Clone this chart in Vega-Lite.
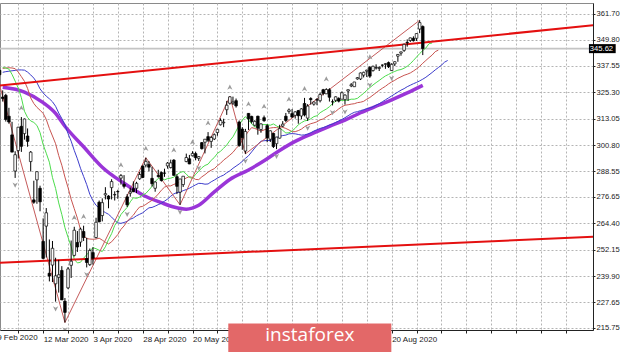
{
"$schema":"https://vega.github.io/schema/vega-lite/v6.json",
"width":593,"height":327,
"autosize":{"type":"none"},
"padding":{"left":0,"top":3,"right":27,"bottom":22},
"background":"white",
"config":{"view":{"stroke":"#8a8a8a","strokeWidth":1},"font":"Liberation Sans"},
"datasets":{
"bars":[
{"i":0,"o":337.8,"h":339.1,"l":337.5,"c":338.3},{"i":1,"o":337.7,"h":338.6,"l":332.6,"c":337.0},{"i":2,"o":335.5,"h":335.8,"l":332.6,"c":333.5},{"i":3,"o":323.1,"h":326.2,"l":321.0,"c":322.4},{"i":4,"o":323.9,"h":324.6,"l":311.7,"c":312.7},{"i":5,"o":314.2,"h":318.1,"l":310.7,"c":311.5},{"i":6,"o":305.5,"h":311.6,"l":297.5,"c":297.5},{"i":7,"o":288.7,"h":297.9,"l":285.5,"c":296.3},{"i":8,"o":298.2,"h":309.2,"l":294.5,"c":309.1},{"i":9,"o":309.5,"h":313.8,"l":297.6,"c":300.2},
{"i":10,"o":306.1,"h":313.1,"l":303.3,"c":312.9},{"i":11,"o":305.0,"h":308.5,"l":300.0,"c":302.5},{"i":12,"o":293.1,"h":298.0,"l":288.5,"c":297.5},{"i":13,"o":275.3,"h":284.2,"l":273.5,"c":274.2},{"i":14,"o":284.6,"h":288.5,"l":273.5,"c":288.4},{"i":15,"o":280.7,"h":281.9,"l":270.0,"c":274.4},{"i":16,"o":256.0,"h":266.7,"l":247.7,"c":248.1},{"i":17,"o":263.1,"h":271.5,"l":248.5,"c":269.3},{"i":18,"o":241.2,"h":256.9,"l":237.4,"c":239.9},{"i":19,"o":245.0,"h":256.2,"l":237.1,"c":252.8},
{"i":20,"o":236.3,"h":248.4,"l":228.0,"c":240.0},{"i":21,"o":239.3,"h":247.4,"l":232.2,"c":240.5},{"i":22,"o":242.5,"h":244.5,"l":228.8,"c":228.8},{"i":23,"o":228.2,"h":229.7,"l":218.3,"c":223.0},{"i":24,"o":234.4,"h":244.1,"l":233.8,"c":243.2},{"i":25,"o":244.9,"h":256.4,"l":239.0,"c":246.8},{"i":26,"o":249.5,"h":262.8,"l":249.0,"c":261.2},{"i":27,"o":255.5,"h":260.8,"l":251.1,"c":253.4},{"i":28,"o":255.7,"h":262.4,"l":253.5,"c":261.7},{"i":29,"o":260.6,"h":263.3,"l":256.2,"c":257.8},
{"i":30,"o":248.0,"h":257.7,"l":243.9,"c":246.2},{"i":31,"o":245.2,"h":252.7,"l":244.6,"c":251.8},{"i":32,"o":250.8,"h":253.3,"l":245.2,"c":248.2},{"i":33,"o":257.8,"h":267.0,"l":257.4,"c":264.9},{"i":34,"o":274.2,"h":275.0,"l":264.9,"c":265.1},{"i":35,"o":268.0,"h":276.0,"l":265.3,"c":274.0},{"i":36,"o":277.6,"h":281.2,"l":275.5,"c":278.2},{"i":37,"o":277.1,"h":277.5,"l":271.4,"c":275.7},{"i":38,"o":281.0,"h":284.9,"l":275.5,"c":283.8},{"i":39,"o":277.6,"h":279.3,"l":275.0,"c":277.8},
{"i":40,"o":279.2,"h":280.0,"l":275.8,"c":279.1},{"i":41,"o":285.4,"h":287.3,"l":282.4,"c":286.6},{"i":42,"o":282.6,"h":286.8,"l":280.6,"c":281.6},{"i":43,"o":276.7,"h":278.0,"l":272.0,"c":273.0},{"i":44,"o":278.4,"h":281.0,"l":276.8,"c":279.1},{"i":45,"o":280.5,"h":283.9,"l":278.9,"c":279.1},{"i":46,"o":280.7,"h":283.7,"l":278.5,"c":283.0},{"i":47,"o":285.1,"h":288.3,"l":284.6,"c":287.1},{"i":48,"o":291.0,"h":291.4,"l":285.4,"c":285.7},{"i":49,"o":291.5,"h":294.9,"l":290.4,"c":293.2},
{"i":50,"o":291.7,"h":293.3,"l":288.6,"c":290.5},{"i":51,"o":285.3,"h":290.7,"l":281.5,"c":282.8},{"i":52,"o":280.7,"h":283.9,"l":279.1,"c":283.6},{"i":53,"o":286.6,"h":289.3,"l":285.6,"c":286.2},{"i":54,"o":288.0,"h":288.5,"l":283.8,"c":284.3},{"i":55,"o":287.8,"h":289.8,"l":286.0,"c":287.7},{"i":56,"o":291.1,"h":292.9,"l":289.8,"c":292.4},{"i":57,"o":290.3,"h":294.0,"l":289.9,"c":292.5},{"i":58,"o":293.8,"h":294.2,"l":286.5,"c":286.7},{"i":59,"o":286.1,"h":287.2,"l":278.0,"c":281.6},
{"i":60,"o":278.9,"h":285.1,"l":273.0,"c":285.0},{"i":61,"o":282.4,"h":286.3,"l":281.3,"c":286.3},{"i":62,"o":293.1,"h":296.8,"l":292.8,"c":295.0},{"i":63,"o":294.4,"h":296.2,"l":291.9,"c":292.0},{"i":64,"o":295.8,"h":297.9,"l":295.5,"c":296.9},{"i":65,"o":296.8,"h":297.7,"l":293.7,"c":294.9},{"i":66,"o":294.6,"h":295.6,"l":293.4,"c":295.4},{"i":67,"o":301.9,"h":302.2,"l":298.7,"c":299.1},{"i":68,"o":302.1,"h":303.6,"l":296.9,"c":303.5},{"i":69,"o":304.7,"h":306.8,"l":302.2,"c":303.0},
{"i":70,"o":302.5,"h":305.0,"l":299.5,"c":304.3},{"i":71,"o":303.6,"h":306.2,"l":303.1,"c":305.6},{"i":72,"o":306.6,"h":308.1,"l":305.1,"c":308.1},{"i":73,"o":310.2,"h":313.2,"l":309.9,"c":312.2},{"i":74,"o":311.1,"h":313.0,"l":309.1,"c":311.4},{"i":75,"o":317.2,"h":321.3,"l":314.8,"c":319.3},{"i":76,"o":320.2,"h":323.4,"l":319.6,"c":323.2},{"i":77,"o":320.3,"h":323.3,"l":319.4,"c":320.8},{"i":78,"o":321.4,"h":322.4,"l":318.2,"c":319.0},{"i":79,"o":311.5,"h":312.2,"l":300.0,"c":300.6},
{"i":80,"o":308.2,"h":309.1,"l":298.6,"c":304.2},{"i":81,"o":298.0,"h":308.3,"l":296.7,"c":307.1},{"i":82,"o":315.5,"h":315.6,"l":307.8,"c":313.0},{"i":83,"o":314.1,"h":314.4,"l":310.8,"c":311.7},{"i":84,"o":310.0,"h":312.3,"l":309.5,"c":311.8},{"i":85,"o":314.2,"h":314.4,"l":305.6,"c":308.6},{"i":86,"o":308.0,"h":310.9,"l":306.5,"c":310.6},{"i":87,"o":313.5,"h":314.5,"l":311.6,"c":312.1},{"i":88,"o":309.8,"h":310.5,"l":302.1,"c":304.1},{"i":89,"o":303.5,"h":307.6,"l":302.2,"c":307.4},
{"i":90,"o":306.2,"h":306.4,"l":299.4,"c":300.1},{"i":91,"o":301.4,"h":304.6,"l":298.9,"c":304.5},{"i":92,"o":304.0,"h":310.2,"l":303.8,"c":308.4},{"i":93,"o":309.6,"h":311.9,"l":309.1,"c":310.5},{"i":94,"o":314.2,"h":315.7,"l":311.5,"c":312.2},{"i":95,"o":316.4,"h":317.8,"l":315.3,"c":317.1},{"i":96,"o":315.4,"h":317.5,"l":313.4,"c":313.8},{"i":97,"o":314.6,"h":316.5,"l":313.1,"c":316.2},{"i":98,"o":316.8,"h":317.1,"l":310.7,"c":314.4},{"i":99,"o":314.3,"h":317.9,"l":312.8,"c":317.6},
{"i":100,"o":320.1,"h":322.7,"l":314.1,"c":314.8},{"i":101,"o":313.3,"h":319.8,"l":312.0,"c":318.9},{"i":102,"o":322.4,"h":323.0,"l":319.6,"c":321.9},{"i":103,"o":319.8,"h":321.0,"l":319.1,"c":320.8},{"i":104,"o":321.9,"h":322.6,"l":319.3,"c":321.7},{"i":105,"o":321.4,"h":325.1,"l":320.6,"c":324.3},{"i":106,"o":326.5,"h":326.9,"l":323.9,"c":324.8},{"i":107,"o":324.6,"h":327.2,"l":324.5,"c":326.6},{"i":108,"o":326.5,"h":327.2,"l":321.0,"c":323.0},{"i":109,"o":320.9,"h":322.0,"l":319.2,"c":320.9},
{"i":110,"o":321.6,"h":323.4,"l":320.8,"c":323.2},{"i":111,"o":322.4,"h":323.0,"l":320.6,"c":321.2},{"i":112,"o":322.1,"h":325.7,"l":322.1,"c":325.1},{"i":113,"o":321.9,"h":324.4,"l":319.6,"c":324.0},{"i":114,"o":325.9,"h":326.6,"l":321.3,"c":326.5},{"i":115,"o":328.3,"h":329.6,"l":327.7,"c":328.8},{"i":116,"o":327.9,"h":330.1,"l":327.9,"c":330.1},{"i":117,"o":331.5,"h":332.4,"l":331.2,"c":332.1},{"i":118,"o":331.5,"h":334.5,"l":331.0,"c":334.3},{"i":119,"o":333.3,"h":334.9,"l":332.2,"c":334.6},
{"i":120,"o":335.1,"h":335.8,"l":332.4,"c":335.6},{"i":121,"o":336.9,"h":337.5,"l":332.0,"c":332.8},{"i":122,"o":335.4,"h":337.7,"l":334.9,"c":337.4},{"i":123,"o":336.6,"h":338.3,"l":335.9,"c":336.8},{"i":124,"o":336.4,"h":337.4,"l":335.2,"c":336.8},{"i":125,"o":337.9,"h":338.3,"l":336.9,"c":337.9},{"i":126,"o":338.3,"h":338.8,"l":336.2,"c":338.6},{"i":127,"o":339.1,"h":339.6,"l":336.6,"c":337.2},{"i":128,"o":335.4,"h":338.8,"l":335.2,"c":338.3},{"i":129,"o":338.5,"h":339.7,"l":337.5,"c":339.5},
{"i":130,"o":342.1,"h":343.0,"l":339.5,"c":342.9},{"i":131,"o":343.5,"h":344.2,"l":342.3,"c":344.1},{"i":132,"o":344.8,"h":347.9,"l":344.1,"c":347.6},{"i":133,"o":348.5,"h":349.9,"l":346.5,"c":348.3},{"i":134,"o":349.4,"h":350.7,"l":348.7,"c":350.6},{"i":135,"o":350.4,"h":351.3,"l":348.9,"c":349.3},{"i":136,"o":350.4,"h":352.7,"l":349.2,"c":352.6},{"i":137,"o":354.7,"h":358.8,"l":352.8,"c":357.7},{"i":138,"o":355.9,"h":356.4,"l":342.6,"c":345.6}
],
"lips":[
{"i":3,"v":336.8},{"i":4,"v":336.6},{"i":5,"v":336.1},{"i":6,"v":333.6},{"i":7,"v":330.5},{"i":8,"v":327.3},{"i":9,"v":322.8},{"i":10,"v":316.5},{"i":11,"v":313.6},{"i":12,"v":312.0},{"i":13,"v":311.3},{"i":14,"v":309.9},{"i":15,"v":306.6},{"i":16,"v":301.0},{"i":17,"v":297.0},{"i":18,"v":292.8},{"i":19,"v":285.7},{"i":20,"v":280.6},{"i":21,"v":273.9},{"i":22,"v":268.5},{"i":23,"v":262.4},{"i":24,"v":257.9},{"i":25,"v":253.6},{"i":26,"v":247.7},{"i":27,"v":246.0},{"i":28,"v":246.3},{"i":29,"v":248.2},{"i":30,"v":249.8},{"i":31,"v":251.4},{"i":32,"v":253.1},{"i":33,"v":252.6},{"i":34,"v":251.9},{"i":35,"v":251.3},{"i":36,"v":253.5},{"i":37,"v":256.8},{"i":38,"v":259.6},{"i":39,"v":263.4},{"i":40,"v":265.6},{"i":41,"v":268.5},{"i":42,"v":270.2},{"i":43,"v":271.8},{"i":44,"v":274.4},{"i":45,"v":276.3},{"i":46,"v":276.0},{"i":47,"v":276.6},{"i":48,"v":277.6},{"i":49,"v":278.3},{"i":50,"v":279.9},{"i":51,"v":281.6},{"i":52,"v":283.8},{"i":53,"v":285.3},{"i":54,"v":285.4},{"i":55,"v":284.6},{"i":56,"v":285.2},{"i":57,"v":285.4},{"i":58,"v":285.9},{"i":59,"v":287.0},{"i":60,"v":288.0},{"i":61,"v":288.5},{"i":62,"v":287.3},{"i":63,"v":285.7},{"i":64,"v":285.3},{"i":65,"v":287.2},{"i":66,"v":288.6},{"i":67,"v":290.2},{"i":68,"v":291.3},{"i":69,"v":291.9},{"i":70,"v":293.7},{"i":71,"v":295.0},{"i":72,"v":296.9},{"i":73,"v":297.9},{"i":74,"v":299.3},{"i":75,"v":300.8},{"i":76,"v":302.9},{"i":77,"v":304.6},{"i":78,"v":307.3},{"i":79,"v":310.1},{"i":80,"v":312.4},{"i":81,"v":314.0},{"i":82,"v":312.4},{"i":83,"v":310.7},{"i":84,"v":309.1},{"i":85,"v":309.6},{"i":86,"v":310.2},{"i":87,"v":310.3},{"i":88,"v":310.3},{"i":89,"v":310.0},{"i":90,"v":310.6},{"i":91,"v":309.7},{"i":92,"v":308.8},{"i":93,"v":307.6},{"i":94,"v":306.4},{"i":95,"v":306.5},{"i":96,"v":307.3},{"i":97,"v":308.6},{"i":98,"v":310.2},{"i":99,"v":311.2},{"i":100,"v":312.0},{"i":101,"v":312.3},{"i":102,"v":313.0},{"i":103,"v":314.0},{"i":104,"v":314.4},{"i":105,"v":315.8},{"i":106,"v":316.7},{"i":107,"v":317.5},{"i":108,"v":318.6},{"i":109,"v":320.0},{"i":110,"v":321.2},{"i":111,"v":321.7},{"i":112,"v":321.5},{"i":113,"v":321.6},{"i":114,"v":321.7},{"i":115,"v":322.1},{"i":116,"v":322.1},{"i":117,"v":322.5},{"i":118,"v":323.7},{"i":119,"v":324.8},{"i":120,"v":326.2},{"i":121,"v":327.5},{"i":122,"v":328.7},{"i":123,"v":329.8},{"i":124,"v":330.8},{"i":125,"v":331.9},{"i":126,"v":332.9},{"i":127,"v":333.6},{"i":128,"v":334.4},{"i":129,"v":335.0},{"i":130,"v":335.6},{"i":131,"v":335.9},{"i":132,"v":336.5},{"i":133,"v":337.4},{"i":134,"v":338.6},{"i":135,"v":340.1},{"i":136,"v":341.7},{"i":137,"v":343.3},{"i":138,"v":344.7},{"i":139,"v":345.9},{"i":140,"v":347.9},{"i":141,"v":348.2}
],
"teeth":[
{"i":3,"v":336.4},{"i":4,"v":336.6},{"i":5,"v":336.7},{"i":6,"v":336.6},{"i":7,"v":336.3},{"i":8,"v":334.7},{"i":9,"v":332.6},{"i":10,"v":330.4},{"i":11,"v":327.1},{"i":12,"v":322.7},{"i":13,"v":320.1},{"i":14,"v":318.3},{"i":15,"v":317.0},{"i":16,"v":315.5},{"i":17,"v":312.7},{"i":18,"v":308.5},{"i":19,"v":305.0},{"i":20,"v":301.4},{"i":21,"v":295.9},{"i":22,"v":291.4},{"i":23,"v":285.9},{"i":24,"v":281.0},{"i":25,"v":275.6},{"i":26,"v":271.2},{"i":27,"v":266.8},{"i":28,"v":261.5},{"i":29,"v":258.7},{"i":30,"v":257.3},{"i":31,"v":257.1},{"i":32,"v":257.0},{"i":33,"v":257.1},{"i":34,"v":257.5},{"i":35,"v":256.6},{"i":36,"v":255.6},{"i":37,"v":254.8},{"i":38,"v":255.8},{"i":39,"v":257.5},{"i":40,"v":259.2},{"i":41,"v":261.6},{"i":42,"v":263.2},{"i":43,"v":265.3},{"i":44,"v":266.8},{"i":45,"v":268.2},{"i":46,"v":270.3},{"i":47,"v":272.0},{"i":48,"v":272.3},{"i":49,"v":273.2},{"i":50,"v":274.2},{"i":51,"v":275.1},{"i":52,"v":276.5},{"i":53,"v":278.0},{"i":54,"v":279.8},{"i":55,"v":281.2},{"i":56,"v":281.8},{"i":57,"v":281.8},{"i":58,"v":282.5},{"i":59,"v":283.0},{"i":60,"v":283.6},{"i":61,"v":284.6},{"i":62,"v":285.5},{"i":63,"v":286.1},{"i":64,"v":285.7},{"i":65,"v":284.8},{"i":66,"v":284.7},{"i":67,"v":286.0},{"i":68,"v":287.0},{"i":69,"v":288.2},{"i":70,"v":289.1},{"i":71,"v":289.8},{"i":72,"v":291.2},{"i":73,"v":292.3},{"i":74,"v":293.8},{"i":75,"v":294.9},{"i":76,"v":296.1},{"i":77,"v":297.4},{"i":78,"v":299.2},{"i":79,"v":300.7},{"i":80,"v":302.9},{"i":81,"v":305.2},{"i":82,"v":307.2},{"i":83,"v":308.9},{"i":84,"v":308.5},{"i":85,"v":307.9},{"i":86,"v":307.3},{"i":87,"v":307.8},{"i":88,"v":308.4},{"i":89,"v":308.7},{"i":90,"v":308.9},{"i":91,"v":308.9},{"i":92,"v":309.4},{"i":93,"v":309.0},{"i":94,"v":308.5},{"i":95,"v":307.8},{"i":96,"v":307.0},{"i":97,"v":307.0},{"i":98,"v":307.5},{"i":99,"v":308.2},{"i":100,"v":309.3},{"i":101,"v":310.1},{"i":102,"v":310.7},{"i":103,"v":311.1},{"i":104,"v":311.6},{"i":105,"v":312.5},{"i":106,"v":312.9},{"i":107,"v":313.9},{"i":108,"v":314.7},{"i":109,"v":315.5},{"i":110,"v":316.4},{"i":111,"v":317.6},{"i":112,"v":318.6},{"i":113,"v":319.3},{"i":114,"v":319.5},{"i":115,"v":319.8},{"i":116,"v":320.0},{"i":117,"v":320.5},{"i":118,"v":320.7},{"i":119,"v":321.1},{"i":120,"v":322.1},{"i":121,"v":322.9},{"i":122,"v":324.0},{"i":123,"v":325.1},{"i":124,"v":326.2},{"i":125,"v":327.2},{"i":126,"v":328.1},{"i":127,"v":329.2},{"i":128,"v":330.1},{"i":129,"v":330.9},{"i":130,"v":331.8},{"i":131,"v":332.5},{"i":132,"v":333.2},{"i":133,"v":333.7},{"i":134,"v":334.3},{"i":135,"v":335.2},{"i":136,"v":336.2},{"i":137,"v":337.4},{"i":138,"v":338.8},{"i":139,"v":340.1},{"i":140,"v":341.4},{"i":141,"v":342.6},{"i":142,"v":344.2},{"i":143,"v":344.9}
],
"jaw":[
{"i":3,"v":334.6},{"i":4,"v":334.9},{"i":5,"v":335.1},{"i":6,"v":335.3},{"i":7,"v":335.5},{"i":8,"v":335.7},{"i":9,"v":335.7},{"i":10,"v":335.6},{"i":11,"v":334.7},{"i":12,"v":333.4},{"i":13,"v":331.9},{"i":14,"v":329.8},{"i":15,"v":326.9},{"i":16,"v":325.0},{"i":17,"v":323.5},{"i":18,"v":322.3},{"i":19,"v":320.9},{"i":20,"v":318.8},{"i":21,"v":315.7},{"i":22,"v":313.1},{"i":23,"v":310.2},{"i":24,"v":306.1},{"i":25,"v":302.6},{"i":26,"v":298.3},{"i":27,"v":294.4},{"i":28,"v":290.0},{"i":29,"v":286.2},{"i":30,"v":282.4},{"i":31,"v":277.9},{"i":32,"v":274.9},{"i":33,"v":272.8},{"i":34,"v":271.5},{"i":35,"v":270.3},{"i":36,"v":269.4},{"i":37,"v":268.6},{"i":38,"v":267.3},{"i":39,"v":265.8},{"i":40,"v":264.6},{"i":41,"v":264.4},{"i":42,"v":264.8},{"i":43,"v":265.3},{"i":44,"v":266.3},{"i":45,"v":266.9},{"i":46,"v":267.9},{"i":47,"v":268.6},{"i":48,"v":269.3},{"i":49,"v":270.5},{"i":50,"v":271.6},{"i":51,"v":271.8},{"i":52,"v":272.4},{"i":53,"v":273.1},{"i":54,"v":273.7},{"i":55,"v":274.7},{"i":56,"v":275.7},{"i":57,"v":277.0},{"i":58,"v":278.1},{"i":59,"v":278.7},{"i":60,"v":278.9},{"i":61,"v":279.6},{"i":62,"v":280.1},{"i":63,"v":280.7},{"i":64,"v":281.5},{"i":65,"v":282.3},{"i":66,"v":283.0},{"i":67,"v":282.9},{"i":68,"v":282.6},{"i":69,"v":282.7},{"i":70,"v":283.7},{"i":71,"v":284.5},{"i":72,"v":285.4},{"i":73,"v":286.2},{"i":74,"v":286.8},{"i":75,"v":287.9},{"i":76,"v":288.8},{"i":77,"v":290.0},{"i":78,"v":291.0},{"i":79,"v":292.0},{"i":80,"v":293.2},{"i":81,"v":294.6},{"i":82,"v":295.8},{"i":83,"v":297.6},{"i":84,"v":299.4},{"i":85,"v":301.1},{"i":86,"v":302.6},{"i":87,"v":302.8},{"i":88,"v":302.9},{"i":89,"v":302.9},{"i":90,"v":303.6},{"i":91,"v":304.3},{"i":92,"v":304.8},{"i":93,"v":305.2},{"i":94,"v":305.4},{"i":95,"v":306.0},{"i":96,"v":306.1},{"i":97,"v":306.0},{"i":98,"v":305.7},{"i":99,"v":305.4},{"i":100,"v":305.5},{"i":101,"v":305.9},{"i":102,"v":306.5},{"i":103,"v":307.3},{"i":104,"v":307.9},{"i":105,"v":308.5},{"i":106,"v":308.9},{"i":107,"v":309.4},{"i":108,"v":310.1},{"i":109,"v":310.5},{"i":110,"v":311.3},{"i":111,"v":312.0},{"i":112,"v":312.7},{"i":113,"v":313.5},{"i":114,"v":314.4},{"i":115,"v":315.3},{"i":116,"v":316.0},{"i":117,"v":316.3},{"i":118,"v":316.8},{"i":119,"v":317.2},{"i":120,"v":317.7},{"i":121,"v":318.0},{"i":122,"v":318.5},{"i":123,"v":319.3},{"i":124,"v":320.0},{"i":125,"v":320.9},{"i":126,"v":321.8},{"i":127,"v":322.7},{"i":128,"v":323.6},{"i":129,"v":324.5},{"i":130,"v":325.4},{"i":131,"v":326.3},{"i":132,"v":327.0},{"i":133,"v":327.9},{"i":134,"v":328.6},{"i":135,"v":329.3},{"i":136,"v":329.9},{"i":137,"v":330.6},{"i":138,"v":331.4},{"i":139,"v":332.3},{"i":140,"v":333.4},{"i":141,"v":334.5},{"i":142,"v":335.7},{"i":143,"v":336.8},{"i":144,"v":337.9},{"i":145,"v":339.3},{"i":146,"v":340.1}
],
"sma":[
{"i":3,"v":327.6},{"i":10,"v":325.4},{"i":16,"v":320.5},{"i":20,"v":315.5},{"i":23,"v":309.5},{"i":29,"v":300.0},{"i":35,"v":290.5},{"i":42,"v":283.0},{"i":48,"v":277.6},{"i":54,"v":274.0},{"i":58,"v":272.0},{"i":62,"v":271.0},{"i":66,"v":272.8},{"i":71,"v":279.0},{"i":76,"v":284.8},{"i":82,"v":289.2},{"i":87,"v":293.5},{"i":92,"v":298.3},{"i":97,"v":302.5},{"i":103,"v":306.4},{"i":108,"v":309.5},{"i":113,"v":312.4},{"i":118,"v":315.8},{"i":124,"v":319.4},{"i":128,"v":321.8},{"i":133,"v":325.0},{"i":138,"v":328.5}
],
"zz":[{"i":0,"v":339.1},{"i":23,"v":218.3},{"i":49,"v":294.9},{"i":60,"v":273.0},{"i":76,"v":323.4},{"i":81,"v":296.7},{"i":137,"v":358.8}],
"tl":[{"g":"a","i":0,"v":328.2},{"g":"a","i":195,"v":356.8},{"g":"b","i":0,"v":245.9},{"g":"b","i":195,"v":258.3}],
"bid":[{"i":0,"v":345.62},{"i":195,"v":345.62}],
"fu":[{"i":9,"v":313.8},{"i":26,"v":262.8},{"i":29,"v":263.3},{"i":41,"v":287.3},{"i":49,"v":294.9},{"i":58,"v":294.2},{"i":64,"v":297.9},{"i":69,"v":306.8},{"i":76,"v":323.4},{"i":82,"v":315.6},{"i":87,"v":314.5},{"i":95,"v":317.8},{"i":100,"v":322.7},{"i":107,"v":327.2},{"i":121,"v":337.5}],
"fd":[{"i":7,"v":285.5},{"i":20,"v":228.0},{"i":23,"v":218.3},{"i":30,"v":243.9},{"i":43,"v":272.0},{"i":60,"v":273.0},{"i":66,"v":293.4},{"i":81,"v":296.7},{"i":91,"v":298.9},{"i":101,"v":312.0},{"i":109,"v":319.2},{"i":113,"v":319.6},{"i":121,"v":332.0},{"i":128,"v":335.2}],
"feb":[{"i":-0.2,"v":211.2,"t":"19 Feb 2020"}],
"wm":[{"i":75.5,"i2":127.9,"v":217.8,"v2":200}],
"wmt":[{"i":101.7,"v":212.3,"t":"instaforex"}],
"tag":[{"i":191.4,"i2":200,"v":347.7,"v2":343.5}],
"tagt":[{"i":191.7,"v":345.62,"t":"345.62"}]
},
"encoding":{
"x":{"field":"i","type":"quantitative","scale":{"domain":[3.74,191.1],"nice":false,"zero":false},
"axis":{"orient":"bottom","title":null,"values":[8,16,24,32,40,48,56,64,72,80,88,96,104,112,120,128,136,144,152,160,168,176,184],
"labelExpr":"datum.value == 16 ? '12 Mar 2020' : datum.value == 32 ? '3 Apr 2020' : datum.value == 48 ? '28 Apr 2020' : datum.value == 64 ? '20 May 2020' : datum.value == 128 ? '20 Aug 2020' : ''",
"labelAlign":"left","labelBaseline":"top","labelPadding":2,"labelFontSize":8,"labelColor":"#1a1a1a","labelFont":"Liberation Sans","labelOverlap":false,"labelFlush":false,"labelBound":false,
"grid":true,"gridColor":"#b4b4b4","gridDash":[2,2],"gridWidth":1,"gridOpacity":1,"domain":true,"domainColor":"#222","tickSize":3,"tickColor":"#222"}},
"y":{"field":"v","type":"quantitative","scale":{"domain":[214.82,366.81],"nice":false,"zero":false},
"axis":{"orient":"right","title":null,"values":[215.75,227.65,239.9,252.15,264.4,276.65,288.55,300.8,313.05,325.3,337.55,349.8,361.7],"format":".2f",
"grid":true,"gridColor":"#b4b4b4","gridDash":[2,2],"gridWidth":1,"gridOpacity":1,"domain":true,"domainColor":"#222","tickSize":2,"tickColor":"#222",
"labelFontSize":7.6,"labelColor":"#1a1a1a","labelFont":"Liberation Sans","labelPadding":1,"labelOverlap":false,"labelFlush":false,"labelBound":false}}
},
"layer":[
{"data":{"name":"bid"},"mark":{"type":"line","color":"#c4c4c4","strokeWidth":1.6,"clip":true}},
{"data":{"name":"sma"},"mark":{"type":"line","color":"#9a35d8","strokeWidth":3.5,"interpolate":"monotone","clip":true}},
{"data":{"name":"jaw"},"mark":{"type":"line","color":"#3d3dcc","strokeWidth":1,"clip":true}},
{"data":{"name":"teeth"},"mark":{"type":"line","color":"#c85450","strokeWidth":1,"clip":true}},
{"data":{"name":"lips"},"mark":{"type":"line","color":"#4cdc4c","strokeWidth":1,"clip":true}},
{"data":{"name":"zz"},"mark":{"type":"line","color":"#c45a5a","strokeWidth":1,"clip":true}},
{"data":{"name":"tl"},"mark":{"type":"line","color":"#e41010","strokeWidth":2,"clip":true},
"encoding":{"detail":{"field":"g"}}},
{"data":{"name":"bars"},"mark":{"type":"rule","color":"#000","strokeWidth":1,"clip":true},
"encoding":{"y":{"field":"l","type":"quantitative","scale":{"domain":[214.82,366.81],"nice":false,"zero":false},
"axis":{"orient":"right","title":null,"values":[215.75,227.65,239.9,252.15,264.4,276.65,288.55,300.8,313.05,325.3,337.55,349.8,361.7],"format":".2f",
"grid":true,"gridColor":"#b4b4b4","gridDash":[2,2],"gridWidth":1,"gridOpacity":1,"domain":true,"domainColor":"#222","tickSize":2,"tickColor":"#222",
"labelFontSize":7.6,"labelColor":"#1a1a1a","labelFont":"Liberation Sans","labelPadding":1,"labelOverlap":false,"labelFlush":false,"labelBound":false}},"y2":{"field":"h"}}},
{"data":{"name":"bars"},"mark":{"type":"bar","width":2.6,"stroke":"#000","strokeWidth":0.7,"clip":true},
"encoding":{"y":{"field":"o","type":"quantitative","scale":{"domain":[214.82,366.81],"nice":false,"zero":false},
"axis":{"orient":"right","title":null,"values":[215.75,227.65,239.9,252.15,264.4,276.65,288.55,300.8,313.05,325.3,337.55,349.8,361.7],"format":".2f",
"grid":true,"gridColor":"#b4b4b4","gridDash":[2,2],"gridWidth":1,"gridOpacity":1,"domain":true,"domainColor":"#222","tickSize":2,"tickColor":"#222",
"labelFontSize":7.6,"labelColor":"#1a1a1a","labelFont":"Liberation Sans","labelPadding":1,"labelOverlap":false,"labelFlush":false,"labelBound":false}},"y2":{"field":"c"},
"fill":{"condition":{"test":"datum.c >= datum.o","value":"#ffffff"},"value":"#000000"}}},
{"data":{"name":"fu"},"mark":{"type":"point","shape":"M0,-1L0.9,0.8L0,0.3L-0.9,0.8Z","filled":true,"color":"#9c9c9c","size":34,"yOffset":-9,"opacity":1,"clip":true}},
{"data":{"name":"fd"},"mark":{"type":"point","shape":"M0,1L0.9,-0.8L0,-0.3L-0.9,-0.8Z","filled":true,"color":"#9c9c9c","size":34,"yOffset":7,"opacity":1,"clip":true}},
{"data":{"name":"feb"},"mark":{"type":"text","color":"#1a1a1a","font":"Liberation Sans","fontSize":8,"align":"left","baseline":"middle","clip":false},
"encoding":{"text":{"field":"t"}}},
{"data":{"name":"wm"},"mark":{"type":"rect","color":"#e36868","clip":false},
"encoding":{"x2":{"field":"i2"},"y2":{"field":"v2"}}},
{"data":{"name":"wmt"},"mark":{"type":"text","color":"#ffffff","font":"Open Sans","fontSize":19,"align":"center","baseline":"middle","clip":false},
"encoding":{"text":{"field":"t"}}},
{"data":{"name":"tag"},"mark":{"type":"rect","color":"#000000","clip":false},
"encoding":{"x2":{"field":"i2"},"y2":{"field":"v2"}}},
{"data":{"name":"tagt"},"mark":{"type":"text","color":"#ffffff","font":"Liberation Sans","fontSize":7.6,"align":"left","baseline":"middle","clip":false},
"encoding":{"text":{"field":"t"}}}
]
}
